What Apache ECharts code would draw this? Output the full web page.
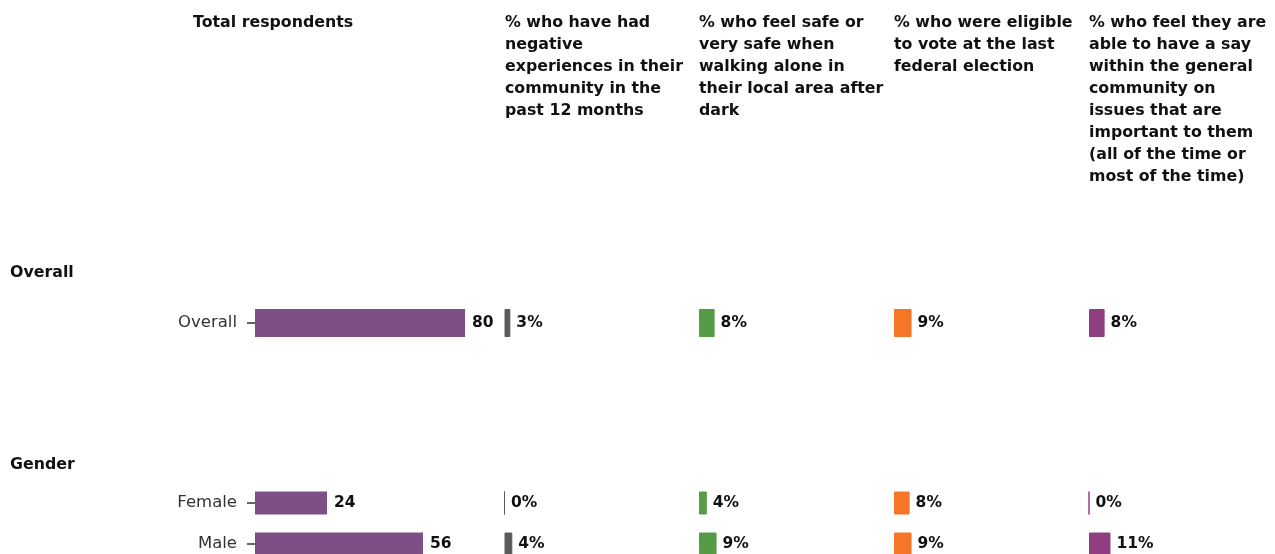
<!DOCTYPE html>
<html>
<head>
<meta charset="utf-8">
<script src="https://cdn.jsdelivr.net/npm/echarts@6/dist/echarts.min.js"></script>
<style>
html,body{margin:0;padding:0;background:#fff;}
#c{width:1275px;height:554px;}
</style>
</head>
<body>
<div id="c"></div>
<script>
// ---- data ----
const groupNames = ['Overall', 'Gender'];
const overallCats = ['Overall'];
const genderCats = ['Female', 'Male'];
const totalHeader = 'Total respondents';
const totalOverall = [80];
const totalGender = [24, 56];
const panelTitles = [
  '% who have had\nnegative\nexperiences in their\ncommunity in the\npast 12 months',
  '% who feel safe or\nvery safe when\nwalking alone in\ntheir local area after\ndark',
  '% who were eligible\nto vote at the last\nfederal election',
  '% who feel they are\nable to have a say\nwithin the general\ncommunity on\nissues that are\nimportant to them\n(all of the time or\nmost of the time)'
];
const negativeOverall = [3];
const negativeGender = [0, 4];
const safeOverall = [8];
const safeGender = [4, 9];
const voteOverall = [9];
const voteGender = [8, 9];
const sayOverall = [8];
const sayGender = [0, 11];

// ---- styling / layout ----
const FONT = '"DejaVu Sans", "Open Sans", sans-serif';
const totalColor = '#7e4e86';
const panelColors = ['#5a5a5a', '#559c44', '#f47626', '#8f3e80'];
const groupTop = [298, 482.5];
const groupHeight = [50, 82];
const groupBarW = [28, 23];
const groupCats = [overallCats, genderCats];
const totalMax = [91.4, 80];
const totalLeft = 255, totalWidth = 240;
const panelLeft = [504.5, 699, 894, 1089];
const panelWidth = 195;
const pctData = [
  [negativeOverall, negativeGender],
  [safeOverall, safeGender],
  [voteOverall, voteGender],
  [sayOverall, sayGender]
];
const totalData = [totalOverall, totalGender];

const grids = [], xAxes = [], yAxes = [], series = [];
function addGrid(left, width, g, max, showLabels) {
  const i = grids.length;
  grids.push({left: left, width: width, top: groupTop[g], height: groupHeight[g], containLabel: false, outerBoundsMode: 'none'});
  xAxes.push({type: 'value', gridIndex: i, min: 0, max: max, show: false});
  yAxes.push({
    type: 'category', gridIndex: i, data: groupCats[g], inverse: true,
    offset: showLabels ? 5 : 0,
    axisLine: {show: false},
    axisTick: {show: showLabels, length: 8, alignWithLabel: true, lineStyle: {color: '#333', width: 1.5}},
    axisLabel: {show: showLabels, margin: 13, color: '#333', fontFamily: FONT, fontSize: 16.5}
  });
  return i;
}
for (let g = 0; g < 2; g++) {
  const i = addGrid(totalLeft, totalWidth, g, totalMax[g], true);
  series.push({
    type: 'bar', xAxisIndex: i, yAxisIndex: i, data: totalData[g],
    barWidth: groupBarW[g], itemStyle: {color: totalColor},
    label: {show: true, position: 'right', distance: 7, color: '#111', fontFamily: FONT, fontWeight: 'bold', fontSize: 15.5},
    silent: true, animation: false
  });
}
for (let p = 0; p < 4; p++) {
  for (let g = 0; g < 2; g++) {
    const i = addGrid(panelLeft[p], panelWidth, g, 100, false);
    series.push({
      type: 'bar', xAxisIndex: i, yAxisIndex: i, data: pctData[p][g],
      barWidth: groupBarW[g],
      itemStyle: {color: panelColors[p], borderColor: panelColors[p], borderWidth: 1},
      label: {show: true, position: 'right', distance: 6, formatter: '{c}%', color: '#111', fontFamily: FONT, fontWeight: 'bold', fontSize: 15.5},
      silent: true, animation: false
    });
  }
}

const headStyle = {fill: '#111', font: 'bold 15.8px ' + FONT, lineHeight: 22, textVerticalAlign: 'top'};
const graphics = [
  {type: 'text', left: 193, top: 12, style: Object.assign({text: totalHeader}, headStyle)},
  {type: 'text', left: 10, top: 262, style: Object.assign({text: groupNames[0]}, headStyle)},
  {type: 'text', left: 10, top: 454, style: Object.assign({text: groupNames[1]}, headStyle)}
];
for (let p = 0; p < 4; p++) {
  graphics.push({type: 'text', left: Math.round(panelLeft[p]), top: 12, style: Object.assign({text: panelTitles[p]}, headStyle)});
}

const chart = echarts.init(document.getElementById('c'), null, {renderer: 'canvas'});
chart.setOption({
  animation: false,
  backgroundColor: '#fff',
  grid: grids, xAxis: xAxes, yAxis: yAxes, series: series,
  graphic: graphics
});
</script>
</body>
</html>
